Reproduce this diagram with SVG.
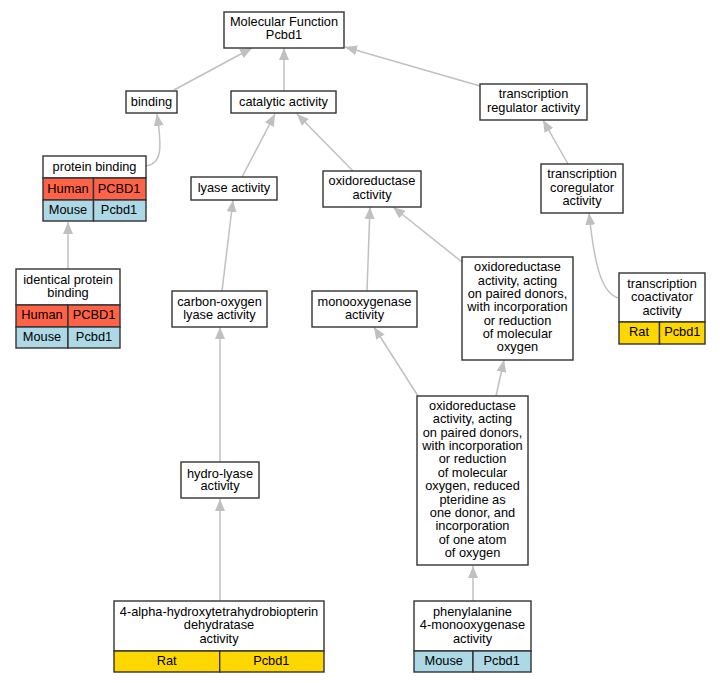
<svg xmlns="http://www.w3.org/2000/svg" width="720" height="683" viewBox="0 0 720 683">
<style>
text{font-family:"Liberation Sans",Arial,sans-serif;font-size:12.8px;fill:#000;text-anchor:middle}
.b{fill:#fff;stroke:#333;stroke-width:1.4}
.h{fill:#ff6347;stroke:#333;stroke-width:1.4}
.m{fill:#add8e6;stroke:#333;stroke-width:1.4}
.r{fill:#ffd700;stroke:#333;stroke-width:1.4}
.e{fill:none;stroke:#c0c0c0;stroke-width:1.5;marker-end:url(#a)}
</style>
<defs>
<marker id="a" markerUnits="userSpaceOnUse" markerWidth="13" markerHeight="10" refX="12" refY="5" orient="auto">
<path d="M0,0 L12,5 L0,10 z" fill="#c0c0c0"/>
</marker>
</defs>
<rect width="720" height="683" fill="#fff"/>
<g id="edges">
<path class="e" d="M174,90 L252,48"/>
<path class="e" d="M284,91 L284,48"/>
<path class="e" d="M480,86 L345,47"/>
<path class="e" d="M146,166 C162,164 162,148 157,114"/>
<path class="e" d="M242,177 L275,114"/>
<path class="e" d="M353,171 L297,114"/>
<path class="e" d="M68,269 L68,222"/>
<path class="e" d="M222,291 L233,200"/>
<path class="e" d="M220,462 L220,327"/>
<path class="e" d="M367,291 L370,207"/>
<path class="e" d="M462,262 L393,207"/>
<path class="e" d="M568,164 L543,120"/>
<path class="e" d="M618,298 C600,292 594,260 589,213"/>
<path class="e" d="M418,396 L374,327"/>
<path class="e" d="M496,396 L504,360"/>
<path class="e" d="M473,601 L473,566"/>
<path class="e" d="M220,601 L220,499"/>
</g>
<g id="n_mf"><rect class="b" x="224" y="12" width="120" height="36"/><text x="284" y="26">Molecular Function</text><text x="284" y="39">Pcbd1</text></g>
<g id="n_binding"><rect class="b" x="126" y="91" width="51" height="22"/><text x="151.5" y="105.5">binding</text></g>
<g id="n_catalytic"><rect class="b" x="231" y="91" width="105" height="22"/><text x="283.5" y="105.5">catalytic activity</text></g>
<g id="n_treg"><rect class="b" x="480" y="84" width="107" height="36"/><text x="533.5" y="98">transcription</text><text x="533.5" y="111.5">regulator activity</text></g>
<g id="n_protbind">
<rect class="b" x="43" y="156" width="103" height="22"/><text x="94.5" y="170.5">protein binding</text>
<rect class="h" x="43" y="178" width="50.5" height="22"/><rect class="h" x="93.5" y="178" width="52.5" height="22"/>
<text x="68" y="192.5">Human</text><text x="119" y="192.5">PCBD1</text>
<rect class="m" x="43" y="200" width="50.5" height="21"/><rect class="m" x="93.5" y="200" width="52.5" height="21"/>
<text x="68" y="214">Mouse</text><text x="119" y="214">Pcbd1</text>
</g>
<g id="n_lyase"><rect class="b" x="191" y="177" width="86" height="23"/><text x="234" y="191.5">lyase activity</text></g>
<g id="n_oxido"><rect class="b" x="323" y="171" width="98" height="36"/><text x="372" y="185">oxidoreductase</text><text x="372" y="198.5">activity</text></g>
<g id="n_tcoreg"><rect class="b" x="541" y="164" width="82" height="49"/><text x="582" y="178">transcription</text><text x="582" y="191.5">coregulator</text><text x="582" y="205">activity</text></g>
<g id="n_ident">
<rect class="b" x="16" y="269" width="104" height="36"/><text x="68" y="283.5">identical protein</text><text x="68" y="297">binding</text>
<rect class="h" x="16" y="305" width="52" height="22"/><rect class="h" x="68" y="305" width="52" height="22"/>
<text x="42" y="319">Human</text><text x="94" y="319">PCBD1</text>
<rect class="m" x="16" y="327" width="52" height="21"/><rect class="m" x="68" y="327" width="52" height="21"/>
<text x="42" y="340.5">Mouse</text><text x="94" y="340.5">Pcbd1</text>
</g>
<g id="n_co"><rect class="b" x="172" y="291" width="95" height="36"/><text x="219.5" y="305.5">carbon-oxygen</text><text x="219.5" y="318.5">lyase activity</text></g>
<g id="n_mono"><rect class="b" x="312" y="291" width="105" height="36"/><text x="364.5" y="305.5">monooxygenase</text><text x="364.5" y="318.5">activity</text></g>
<g id="n_paired"><rect class="b" x="462" y="257" width="111" height="103"/>
<text x="517.5" y="271">oxidoreductase</text><text x="517.5" y="284.5">activity, acting</text><text x="517.5" y="297.9">on paired donors,</text><text x="517.5" y="311.2">with incorporation</text><text x="517.5" y="324.6">or reduction</text><text x="517.5" y="338">of molecular</text><text x="517.5" y="351.3">oxygen</text></g>
<g id="n_coact">
<rect class="b" x="619" y="273" width="86" height="49"/><text x="662" y="287.5">transcription</text><text x="662" y="301">coactivator</text><text x="662" y="314.5">activity</text>
<rect class="r" x="619" y="322" width="40.5" height="22"/><rect class="r" x="659.5" y="322" width="45.5" height="22"/>
<text x="639" y="336">Rat</text><text x="682.3" y="336">Pcbd1</text>
</g>
<g id="n_hydro"><rect class="b" x="181" y="462" width="78" height="36"/><text x="220" y="477.5">hydro-lyase</text><text x="220" y="490">activity</text></g>
<g id="n_pter"><rect class="b" x="417" y="396" width="111" height="169"/>
<text x="472.5" y="410">oxidoreductase</text><text x="472.5" y="423.4">activity, acting</text><text x="472.5" y="436.7">on paired donors,</text><text x="472.5" y="450.1">with incorporation</text><text x="472.5" y="463.4">or reduction</text><text x="472.5" y="476.8">of molecular</text><text x="472.5" y="490.1">oxygen, reduced</text><text x="472.5" y="503.5">pteridine as</text><text x="472.5" y="516.8">one donor, and</text><text x="472.5" y="530.2">incorporation</text><text x="472.5" y="543.5">of one atom</text><text x="472.5" y="556.9">of oxygen</text></g>
<g id="n_4alpha">
<rect class="b" x="114" y="601" width="210" height="50"/><text x="219" y="615.5">4-alpha-hydroxytetrahydrobiopterin</text><text x="219" y="629">dehydratase</text><text x="219" y="642.5">activity</text>
<rect class="r" x="114" y="651" width="105.7" height="21"/><rect class="r" x="219.7" y="651" width="104.3" height="21"/>
<text x="166.7" y="664.5">Rat</text><text x="271.3" y="664.5">Pcbd1</text>
</g>
<g id="n_phe">
<rect class="b" x="414" y="601" width="117" height="50"/><text x="472.5" y="615.5">phenylalanine</text><text x="472.5" y="629">4-monooxygenase</text><text x="472.5" y="642.5">activity</text>
<rect class="m" x="414" y="651" width="59" height="21"/><rect class="m" x="473" y="651" width="58" height="21"/>
<text x="443.7" y="664.5">Mouse</text><text x="501.7" y="664.5">Pcbd1</text>
</g>
</svg>
